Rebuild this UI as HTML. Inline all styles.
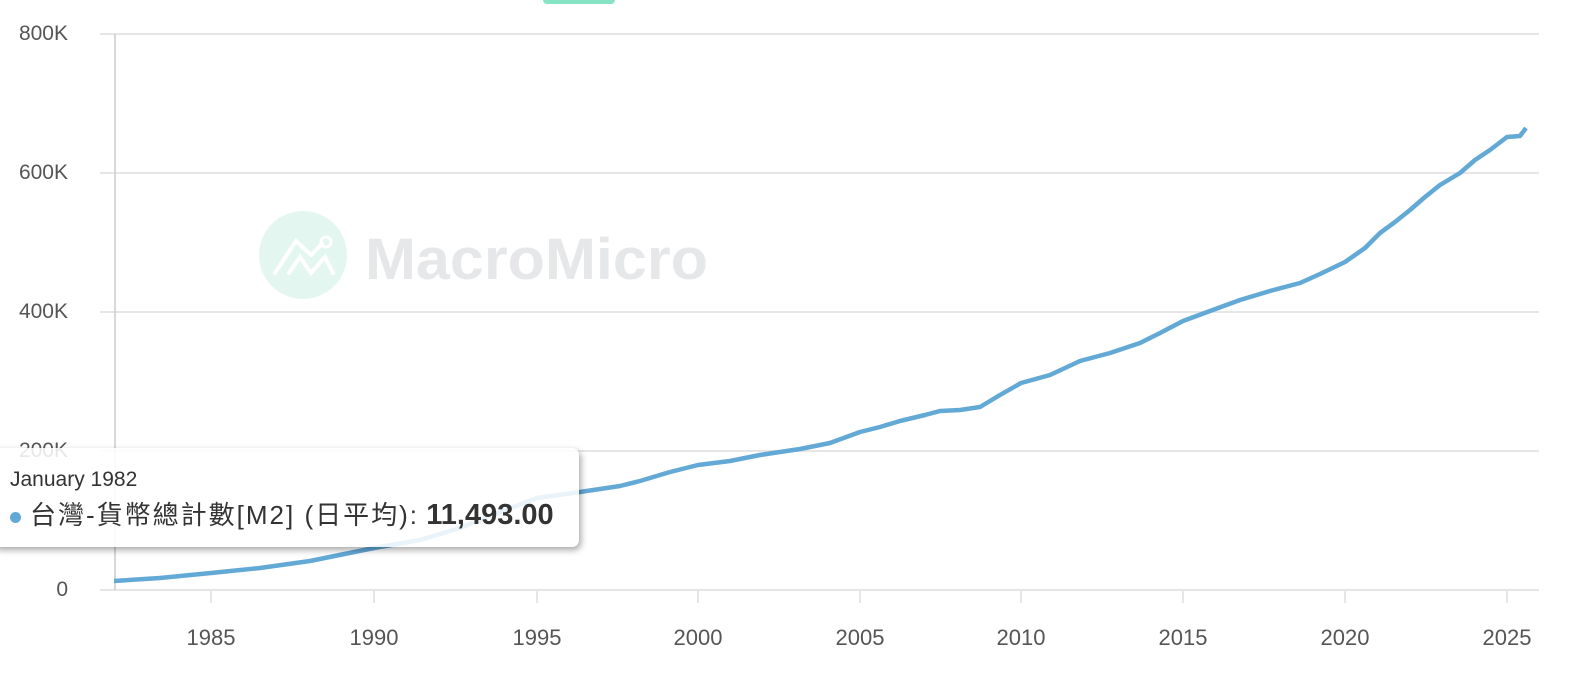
<!DOCTYPE html>
<html><head><meta charset="utf-8"><style>
body{margin:0;background:#fff;width:1579px;height:674px;overflow:hidden;position:relative;font-family:"Liberation Sans","Noto Sans CJK TC",sans-serif}
.yl{position:absolute;left:0;width:68px;text-align:right;font-size:21px;color:#555}
.xl{position:absolute;top:625px;width:80px;margin-left:-40px;text-align:center;font-size:22px;color:#555}
.tip{position:absolute;left:-8px;top:448px;width:587px;height:99px;background:rgba(255,255,255,0.86);border-radius:7px;box-shadow:2px 3px 7px rgba(0,0,0,0.35)}
</style></head><body>
<div style="position:absolute;left:543px;top:-6px;width:72px;height:10px;background:#86e3c3;border-radius:4px"></div>
<svg width="1579" height="674" style="position:absolute;left:0;top:0">
<g stroke="#e6e6e6" stroke-width="2">
<line x1="100" y1="34" x2="1539" y2="34"/><line x1="100" y1="173" x2="1539" y2="173"/>
<line x1="100" y1="312" x2="1539" y2="312"/><line x1="100" y1="451" x2="1539" y2="451"/>
<line x1="100" y1="590" x2="1539" y2="590"/>
<line x1="211" y1="590" x2="211" y2="603"/><line x1="374" y1="590" x2="374" y2="603"/>
<line x1="537" y1="590" x2="537" y2="603"/><line x1="698" y1="590" x2="698" y2="603"/>
<line x1="860" y1="590" x2="860" y2="603"/><line x1="1021" y1="590" x2="1021" y2="603"/>
<line x1="1183" y1="590" x2="1183" y2="603"/><line x1="1345" y1="590" x2="1345" y2="603"/>
<line x1="1507" y1="590" x2="1507" y2="603"/>
</g>
<line x1="115" y1="34" x2="115" y2="590" stroke="#ccc" stroke-width="1.5"/>
<circle cx="303" cy="255" r="44" fill="#e3f7f0"/>
<polyline points="275,273 296,241 311,255 322,244" fill="none" stroke="#fff" stroke-width="4" stroke-linecap="round"/>
<polyline points="289,273 300,257 311,273 325,257 333,273" fill="none" stroke="#fff" stroke-width="4" stroke-linecap="round"/>
<circle cx="326" cy="242" r="5" fill="none" stroke="#fff" stroke-width="3"/>
<text x="365" y="279" font-family="Liberation Sans,sans-serif" font-weight="bold" font-size="58" fill="#e6e7e9" textLength="343" lengthAdjust="spacingAndGlyphs">MacroMicro</text>
<polyline fill="none" stroke="#62a9d6" stroke-width="4.5" stroke-linejoin="round" points="
114,581 160,578 211,573 260,568 310,561 374,548 420,540 460,528 500,512 537,498 580,492 620,486 640,481 670,472 698,465 730,461 760,455 800,449 830,443 860,432 880,427 900,421 925,415 940,411 960,410 980,407 1000,395 1021,383 1050,375 1080,361 1110,353 1140,343 1160,333 1183,321 1210,311 1240,300 1270,291 1300,283 1320,274 1345,262 1365,248 1380,233 1395,222 1410,210 1425,197 1440,185 1460,173 1475,160 1490,150 1507,137 1520,136 1526,128"/>
</svg>
<div class="yl" style="top:22px">800K</div>
<div class="yl" style="top:161px">600K</div>
<div class="yl" style="top:300px">400K</div>
<div class="yl" style="top:439px">200K</div>
<div class="yl" style="top:578px">0</div>
<div class="xl" style="left:211px">1985</div><div class="xl" style="left:374px">1990</div>
<div class="xl" style="left:537px">1995</div><div class="xl" style="left:698px">2000</div>
<div class="xl" style="left:860px">2005</div><div class="xl" style="left:1021px">2010</div>
<div class="xl" style="left:1183px">2015</div><div class="xl" style="left:1345px">2020</div>
<div class="xl" style="left:1507px">2025</div>
<div class="tip">
<div style="position:absolute;left:18px;top:20px;font-size:21px;color:#333">January 1982</div>
<div style="position:absolute;left:18px;top:47px;font-size:26px;color:#333;white-space:nowrap"><span style="display:inline-block;width:11px;height:11px;border-radius:50%;background:#62a9d6;margin-right:9px;vertical-align:middle"></span><span style="letter-spacing:2px">台灣-貨幣總計數[M2] (日平均):</span> <b style="font-size:29px">11,493.00</b></div>
</div>
</body></html>
